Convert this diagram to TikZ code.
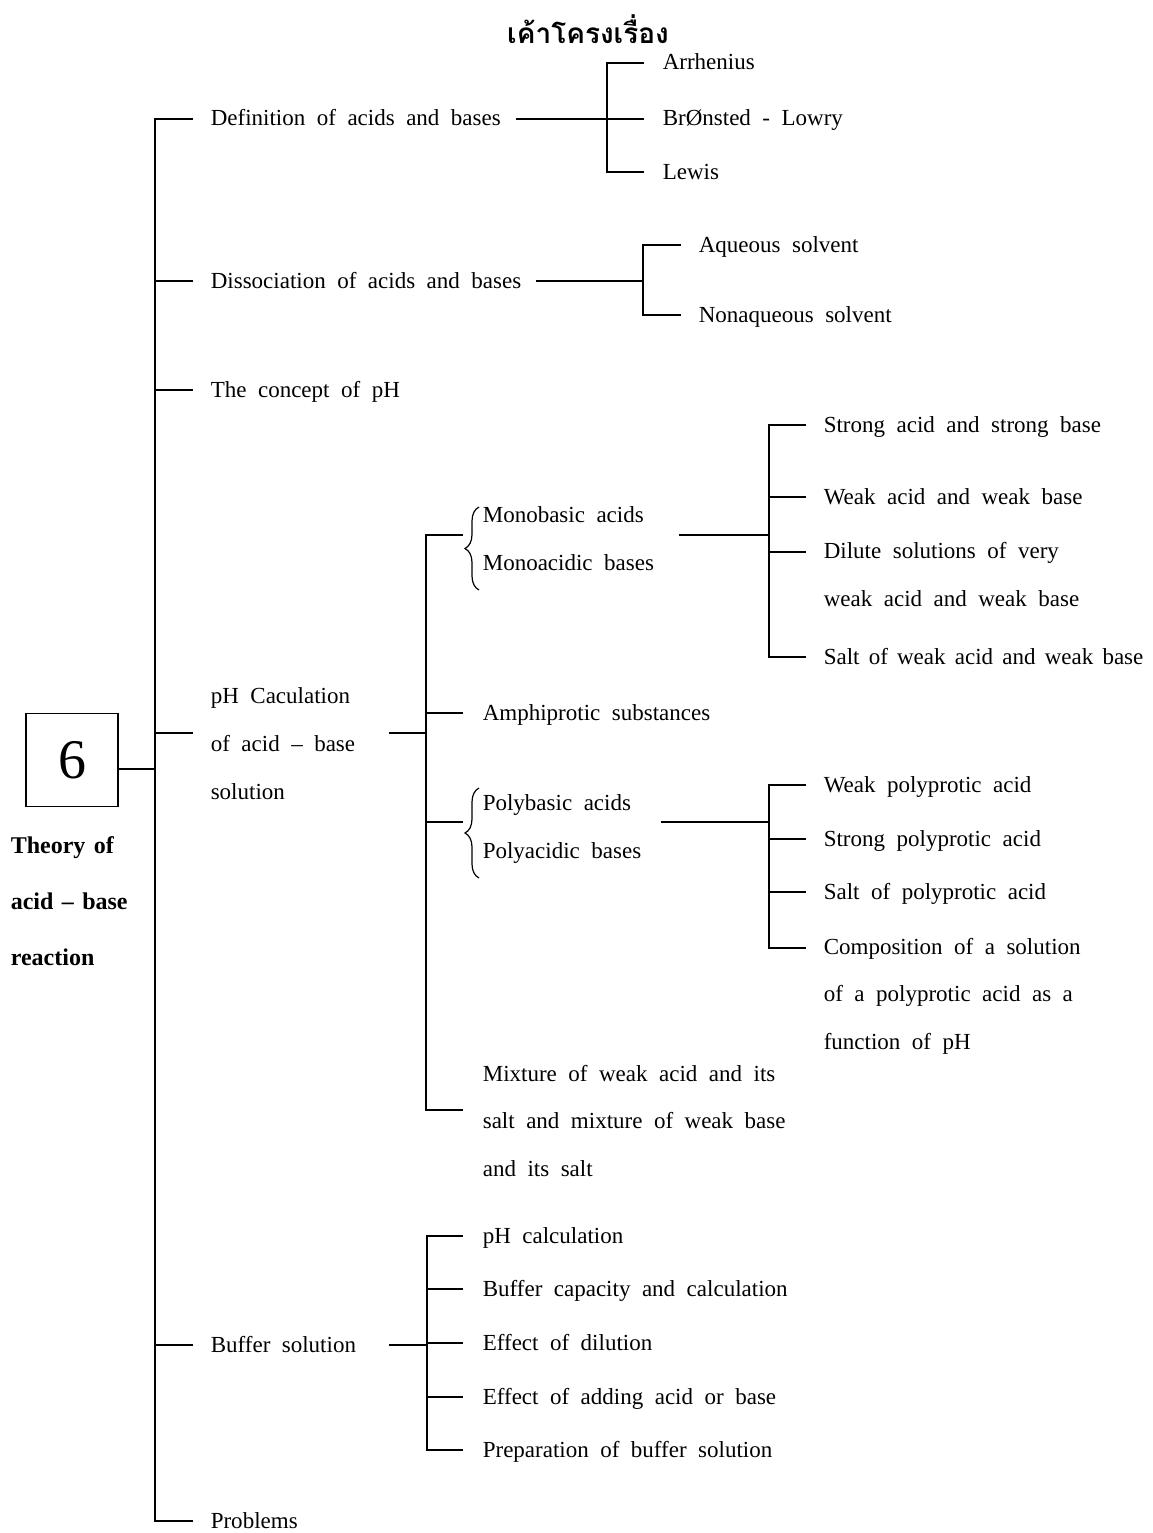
\documentclass[tikz,border=0pt]{standalone}
\usepackage{fontspec}
\setmainfont{Liberation Serif}
\newfontfamily\thaifont[Script=Thai]{Loma}
\usetikzlibrary{decorations.pathreplacing}
\newcommand\txtfont{\fontsize{23}{47.5}\selectfont\spaceskip=0.5em plus 0.1em\relax}
\newcommand\tightfont{\fontsize{23}{47.5}\selectfont\spaceskip=0.4em plus 0.1em\relax}
\newcommand\phcfont{\fontsize{23}{48}\selectfont\spaceskip=0.5em plus 0.1em\relax}
\newcommand\boldtxt{\fontsize{24}{56}\selectfont\bfseries\spaceskip=0.35em\relax}
\begin{document}
\begin{tikzpicture}[x=1pt,y=-1pt,line width=1.6pt,
  lbl/.style={anchor=west,inner sep=0pt,text height=14pt,text depth=0pt,font=\txtfont},
  mlbl/.style={anchor=base west,inner sep=0pt,align=left,font=\txtfont},
  conn/.style={line width=1.6pt,line cap=rect},
  bracestyle/.style={line width=1.2pt,decorate,decoration={brace,amplitude=14pt}}]
\useasboundingbox (0,0) rectangle (1153,1533);

% title
\node[anchor=base,inner sep=0pt,font=\thaifont\bfseries\fontsize{28}{30}\selectfont] (title) at (588,44) {เค้าโครงเรื่อง};

% root (multi-line nodes are placed at the baseline of their last line)
\node[draw,line width=1.6pt,minimum width=92pt,minimum height=93pt,inner sep=0pt,font=\fontsize{56}{56}\selectfont] (box) at (72,760) {6};
\node[anchor=base west,inner sep=0pt,align=left,font=\boldtxt] (thy) at (10,965) {Theory of\\acid – base\\reaction};

% level 1
\node[lbl] (def) at (210,119) {Definition of acids and bases};
\node[lbl] (dis) at (210,281) {Dissociation of acids and bases};
\node[lbl] (con) at (210,390) {The concept of pH};
\node[mlbl,font=\phcfont] (phc) at (210,799) {pH Caculation\\of acid – base\\solution};
\node[lbl] (buf) at (210,1345) {Buffer solution};
\node[lbl] (prob) at (210,1521) {Problems};

% definition
\node[lbl] (arr) at (662,63) {Arrhenius};
\node[lbl] (bro) at (662,119) {BrØnsted - Lowry};
\node[lbl] (lew) at (662,172) {Lewis};

% dissociation
\node[lbl] (aq) at (698,245) {Aqueous solvent};
\node[lbl] (naq) at (698,315) {Nonaqueous solvent};

% pH calculation
\node[mlbl] (mono) at (482,570) {Monobasic acids\\Monoacidic bases};
\node[lbl] (amph) at (482,713) {Amphiprotic substances};
\node[mlbl] (poly) at (482,858) {Polybasic acids\\Polyacidic bases};
\node[mlbl] (mix) at (482,1176) {Mixture of weak acid and its\\salt and mixture of weak base\\and its salt};

\node[lbl] (sasb) at (823,425) {Strong acid and strong base};
\node[lbl] (wawb) at (823,497) {Weak acid and weak base};
\node[mlbl] (dil) at (823,606) {Dilute solutions of very\\weak acid and weak base};
\node[lbl,font=\tightfont] (salt) at (823,657) {Salt of weak acid and weak base};

\node[lbl] (wpa) at (823,785) {Weak polyprotic acid};
\node[lbl] (spa) at (823,839) {Strong polyprotic acid};
\node[lbl] (slt) at (823,892) {Salt of polyprotic acid};
\node[mlbl] (comp) at (823,1049) {Composition of a solution\\of a polyprotic acid as a\\function of pH};

% buffer
\node[lbl] (b1) at (482,1236) {pH calculation};
\node[lbl] (b2) at (482,1289) {Buffer capacity and calculation};
\node[lbl] (b3) at (482,1343) {Effect of dilution};
\node[lbl] (b4) at (482,1397) {Effect of adding acid or base};
\node[lbl] (b5) at (482,1450) {Preparation of buffer solution};

% ---------- connectors ----------
% trunk
\coordinate (ttop) at (155,119);
\coordinate (tbot) at (155,1521);
\draw[conn] (ttop) -- (tbot);
\coordinate (boxj) at ([yshift=-9pt]box.east);
\draw[conn] (boxj) -- (ttop |- boxj);
\foreach \n in {def,dis,con,buf,prob}
  \draw[conn] (ttop |- \n.west) -- ([xshift=-18pt]\n.west);
\coordinate (phcj) at (155,733);
\coordinate (phce) at (192,733);
\draw[conn] (phcj) -- (phce);

% definition
\coordinate (ds) at (517,119);
\coordinate (dj) at (607,119);
\draw[conn] (ds) -- (dj);
\draw[conn] (dj |- arr.west) -- (dj |- lew.west);
\foreach \n in {arr,bro,lew}
  \draw[conn] (dj |- \n.west) -- ([xshift=-19pt]\n.west);

% dissociation
\coordinate (iss) at (537,281);
\coordinate (isj) at (643,281);
\draw[conn] (iss) -- (isj);
\draw[conn] (isj |- aq.west) -- (isj |- naq.west);
\foreach \n in {aq,naq}
  \draw[conn] (isj |- \n.west) -- ([xshift=-18pt]\n.west);

% pH calculation
\coordinate (ps) at (390,733);
\coordinate (pj) at (426,733);
\coordinate (pjtop) at (426,535);
\coordinate (pjpoly) at (426,822);
\coordinate (pjbot) at (426,1110);
\coordinate (monoe) at (462,535);
\coordinate (polye) at (462,822);
\coordinate (mixe) at (462,1110);
\draw[conn] (ps) -- (pj);
\draw[conn] (pjtop) -- (pjbot);
\draw[conn] (pjtop) -- (monoe);
\draw[conn] (pj |- amph.west) -- ([xshift=-20pt]amph.west);
\draw[conn] (pjpoly) -- (polye);
\draw[conn] (pjbot) -- (mixe);

% braces
\coordinate (mbt) at (479,507);
\coordinate (mbb) at (479,590);
\draw[bracestyle] (mbb) -- (mbt);
\coordinate (pbt) at (479,788);
\coordinate (pbb) at (479,878);
\draw[bracestyle] (pbb) -- (pbt);

% monobasic subtree
\coordinate (ms) at (680,535);
\coordinate (mj) at (769,535);
\coordinate (dilj) at (769,552);
\coordinate (dile) at (805,552);
\draw[conn] (ms) -- (mj);
\draw[conn] (mj |- sasb.west) -- (mj |- salt.west);
\foreach \n in {sasb,wawb,salt}
  \draw[conn] (mj |- \n.west) -- ([xshift=-18pt]\n.west);
\draw[conn] (dilj) -- (dile);

% polybasic subtree
\coordinate (pls) at (662,822);
\coordinate (plj) at (769,822);
\coordinate (compj) at (769,948);
\coordinate (compe) at (805,948);
\draw[conn] (pls) -- (plj);
\draw[conn] (plj |- wpa.west) -- (compj);
\foreach \n in {wpa,spa,slt}
  \draw[conn] (plj |- \n.west) -- ([xshift=-18pt]\n.west);
\draw[conn] (compj) -- (compe);

% buffer subtree
\coordinate (bs) at (390,1345);
\coordinate (bj) at (427,1345);
\draw[conn] (bs) -- (bj);
\draw[conn] (bj |- b1.west) -- (bj |- b5.west);
\foreach \n in {b1,b2,b3,b4,b5}
  \draw[conn] (bj |- \n.west) -- ([xshift=-20pt]\n.west);
\end{tikzpicture}
\end{document}
